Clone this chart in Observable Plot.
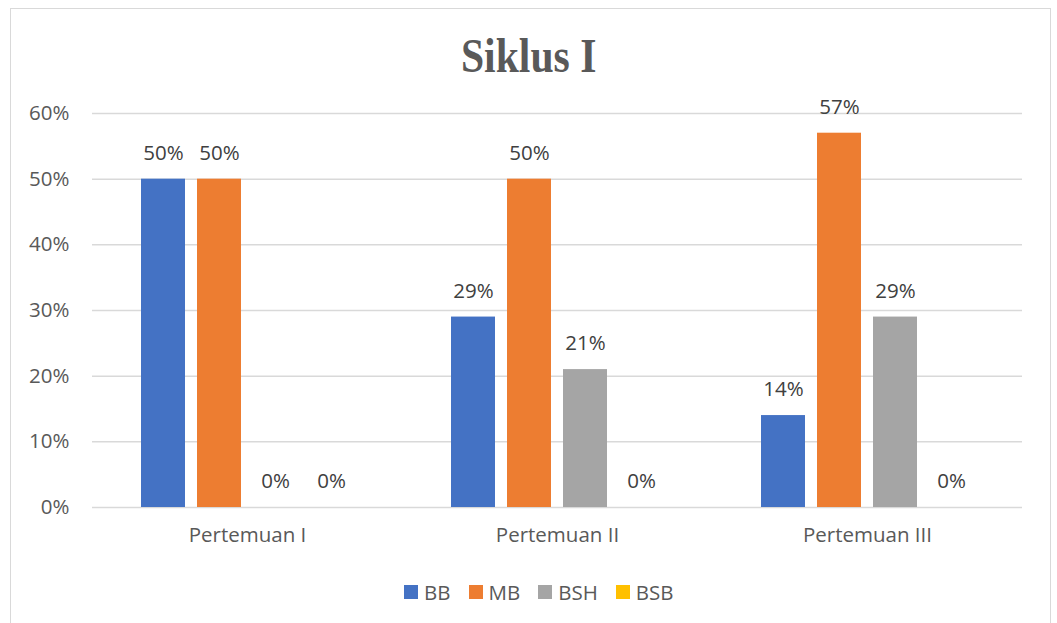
<!DOCTYPE html>
<html>
<head>
<meta charset="utf-8">
<script src="https://cdn.jsdelivr.net/npm/d3@7"></script>
<script src="https://cdn.jsdelivr.net/npm/@observablehq/plot@0.6"></script>
<style>
  html, body { margin: 0; padding: 0; background: #fff; }
  #wrap { position: relative; width: 1057px; height: 623px; overflow: hidden; background: #fff; }
  #frame { position: absolute; left: 10px; top: 8px; width: 1041px; height: 640px; border: 1.5px solid #d9d9d9; box-sizing: border-box; }
  #title { position: absolute; left: 0; width: 1057px; top: 28px; text-align: center; font-family: "Liberation Serif", "Times New Roman", serif; font-weight: bold; font-size: 49px; line-height: 56px; color: #595959; }
  #title span { display: inline-block; transform: scaleX(0.85); transform-origin: center; }
  #chart { position: absolute; left: 0; top: 0; }
  #legend { position: absolute; left: 404px; top: 580px; display: flex; align-items: center; font-family: "Open Sans", sans-serif; font-size: 20.5px; color: #595959; line-height: 24px; }
  #legend .item { display: flex; align-items: center; margin-right: 18px; }
  #legend .sw { width: 14px; height: 14px; margin-right: 6px; }
</style>
</head>
<body>
<div id="wrap">
  <div id="frame"></div>
  <div id="title"><span>Siklus I</span></div>
  <div id="chart"></div>
  <div id="legend"></div>
</div>
<script>
const categories = ["Pertemuan I", "Pertemuan II", "Pertemuan III"];
const seriesNames = ["BB", "MB", "BSH", "BSB"];
const seriesColors = ["#4472C4", "#ED7D31", "#A5A5A5", "#FFC000"];
const BB = [50, 29, 14];
const MB = [50, 50, 57];
const BSH = [0, 21, 29];
const BSB = [0, 0, 0];
const yTicks = [0, 10, 20, 30, 40, 50, 60];

const seriesValues = [BB, MB, BSH, BSB];
const data = [];
categories.forEach((c, i) => {
  seriesNames.forEach((s, j) => {
    data.push({cat: c, series: s, value: seriesValues[j][i]});
  });
});

const chart = Plot.plot({
  width: 1057,
  height: 623,
  marginLeft: 92,
  marginRight: 35,
  marginTop: 113,
  marginBottom: 116,
  style: {fontFamily: "Open Sans, sans-serif", fontSize: "20.5px", color: "#595959", background: "transparent"},
  fx: {domain: categories, padding: 0, label: null, axis: "bottom", tickSize: 0, tickPadding: 20},
  x: {domain: seriesNames, paddingInner: 0.2143, paddingOuter: 0.875, axis: null},
  y: {domain: [0, 60], ticks: yTicks, tickFormat: d => d + "%", label: null, tickSize: 0, tickPadding: 23},
  color: {domain: seriesNames, range: seriesColors},
  marks: [
    Plot.gridY(yTicks, {stroke: "#d9d9d9", strokeOpacity: 1, strokeWidth: 1.5}),
    Plot.barY(data, {fx: "cat", x: "series", y: "value", fill: "series"}),
    Plot.text(data, {fx: "cat", x: "series", y: "value", text: d => d.value + "%", dy: -26, fill: "#404040", fontSize: 20.5})
  ]
});
document.getElementById("chart").appendChild(chart);

const legend = document.getElementById("legend");
seriesNames.forEach((s, i) => {
  const item = document.createElement("div");
  item.className = "item";
  const sw = document.createElement("div");
  sw.className = "sw";
  sw.style.background = seriesColors[i];
  const t = document.createElement("span");
  t.textContent = s;
  item.appendChild(sw);
  item.appendChild(t);
  legend.appendChild(item);
});
</script>
</body>
</html>
